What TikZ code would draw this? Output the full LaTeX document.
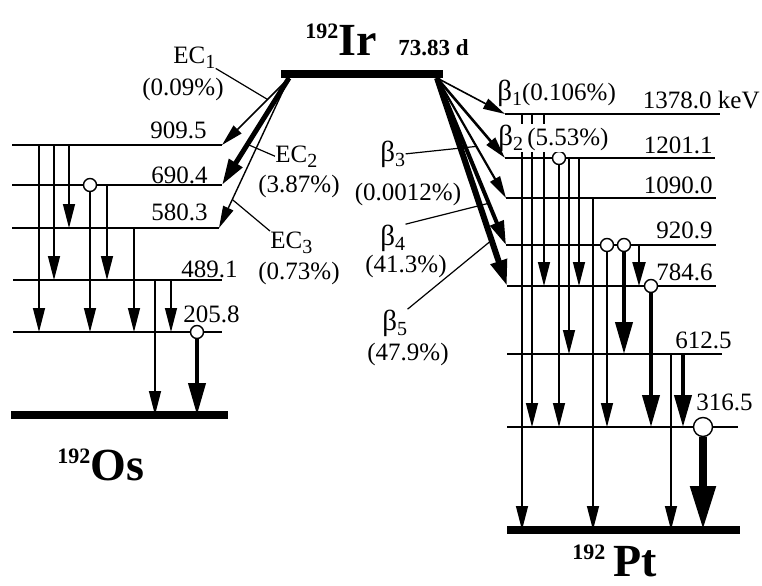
\documentclass[tikz,border=0pt]{standalone}
\usepackage{fontspec}
\setmainfont{Liberation Serif}
\usetikzlibrary{arrows.meta,calc}
\newcommand{\lowix}[1]{\raisebox{-2.5pt}{\fontsize{10}{10}\selectfont #1}}
\newcommand{\bsym}[1]{{\fontsize{14.5}{15}\selectfont β}\lowix{#1}}
\newcommand{\isot}[2]{{\bfseries\raisebox{8.3pt}{\fontsize{11}{11}\selectfont #1}\fontsize{23}{25}\selectfont #2}}

\begin{document}
\begin{tikzpicture}[x=0.5pt, y=-0.5pt,
  font=\fontsize{12.5}{14}\selectfont,
  lvl/.style={line width=0.8pt},
  gnd/.style={line width=4pt},
  val/.style={anchor=base east, inner sep=0pt},
  txt/.style={anchor=base west, inner sep=0pt},
  pct/.style={anchor=base, inner sep=0pt},
  gam/.style={line width=0.7pt, -{Triangle[length=12pt,width=6pt]}},
  gamm/.style={line width=1.1pt, -{Triangle[length=12pt,width=6.5pt]}},
  gamt/.style={line width=2pt, -{Triangle[length=16pt,width=8.5pt]}},
  gamtt/.style={line width=4pt, -{Triangle[length=22pt,width=12pt]}},
  dec/.style={-{Triangle[length=11pt,width=5.5pt]}},
  lead/.style={line width=0.6pt},
  dot/.style={circle, draw, fill=white, line width=0.7pt, inner sep=0pt, minimum size=6.5pt}]
\useasboundingbox (0,0) rectangle (762,585);
% parent 192Ir
\draw[gnd] (281,74) coordinate (ir-l) -- (443,74) coordinate (ir-r);
\coordinate (ecS) at (289,78);
\coordinate (btS) at (437,78);
\node[txt] (ir) at (305,55) {\isot{192}{Ir}};
\node[txt, font=\bfseries\fontsize{11.5}{12}\selectfont] (thalf) at (398,55) {73.83 d};
% 192Os levels
\foreach \n/\y/\xa/\xb in {os909/145/12/222, os690/185/12/222, os580/228/12/219, os489/280/13/222, os205/332/13/222}
  \draw[lvl] (\xa,\y) coordinate (\n-l) -- (\xb,\y) coordinate (\n-r);
\draw[gnd] (11,415) coordinate (os0-l) -- (228,415) coordinate (os0-r);
\foreach \n/\t/\x/\y in {os909/909.5/207/138, os690/690.4/208/183, os580/580.3/208/220, os489/489.1/238/277, os205/205.8/240/322}
  \node[val] (\n-t) at (\x,\y) {\t};
\node[txt] (os) at (57,480) {\isot{192}{Os}};
% 192Os gammas
\foreach \x/\a/\b in {39/os909/os205, 54/os909/os489, 69/os909/os580, 107/os690/os489, 134/os580/os205, 155/os489/os0, 171/os489/os205}
  \draw[gam] (\x,0 |- \a-l) -- (\x,0 |- \b-l);
\node[dot] (c690) at (90,0 |- os690-l) {};
\node[dot] (c205) at (197,0 |- os205-l) {};
\draw[gam] (c690) -- (c690 |- os205-l);
\draw[gamt] (c205) -- (c205 |- os0-l);
% electron capture
\draw[dec, line width=0.8pt] (ecS) -- (os909-r);
\draw[dec, line width=2.5pt, -{Triangle[length=13pt,width=7.5pt]}] (ecS) -- (os690-r);
\draw[dec, line width=0.7pt] (ecS) -- (os580-r);
\node[txt] (ec1) at (173,63) {EC\lowix{1}};
\node[pct] (ec1p) at (183,95) {(0.09\%)};
\node[txt] (ec2) at (275,162) {EC\lowix{2}};
\node[pct] (ec2p) at (299,192) {(3.87\%)};
\node[txt] (ec3) at (270,248) {EC\lowix{3}};
\node[pct] (ec3p) at (299,279) {(0.73\%)};
\draw[lead] (ec1.south east) -- ($(ecS)!0.32!(os909-r)$);
\draw[lead] (ec2.west) -- ($(ecS)!0.62!(os690-r)$);
\draw[lead] (ec3.north west) -- ($(ecS)!0.81!(os580-r)$);
% 192Pt levels
\foreach \n/\y/\xa/\xb in {pt1378/114/505/720, pt1201/158/505/715, pt1090/198/506/716, pt920/245/506/716, pt784/286/507/716, pt612/354/507/722, pt316/427/507/738}
  \draw[lvl] (\xa,\y) coordinate (\n-l) -- (\xb,\y) coordinate (\n-r);
\draw[gnd] (507,530) coordinate (pt0-l) -- (740,530) coordinate (pt0-r);
\foreach \n/\t/\x/\y in {pt1378/1378.0 keV/760/108, pt1201/1201.1/713/153, pt1090/1090.0/713/193, pt920/920.9/713/238, pt784/784.6/713/280, pt612/612.5/732/348, pt316/316.5/753/410}
  \node[val] (\n-t) at (\x,\y) {\t};
\node[txt] (pt) at (572,576) {\isot{192}{\,Pt}};
% 192Pt gammas
\foreach \x/\a/\b in {522/pt1378/pt0, 532/pt1378/pt316, 544/pt1378/pt784, 569/pt1201/pt612, 579/pt1201/pt784, 593/pt1090/pt0, 671/pt612/pt0}
  \draw[gam] (\x,0 |- \a-l) -- (\x,0 |- \b-l);
\draw[gamm] (639,0 |- pt920-l) -- (639,0 |- pt784-l);
\draw[gamt] (683,0 |- pt612-l) -- (683,0 |- pt316-l);
\node[dot] (c1201) at (559,0 |- pt1201-l) {};
\node[dot] (c920a) at (607,0 |- pt920-l) {};
\node[dot] (c920b) at (624,0 |- pt920-l) {};
\node[dot] (c784) at (651,0 |- pt784-l) {};
\node[dot, minimum size=9.5pt] (c316) at (703,0 |- pt316-l) {};
\draw[gam] (c1201) -- (c1201 |- pt316-l);
\draw[gam] (c920a) -- (c920a |- pt316-l);
\draw[gamt] (c920b) -- (c920b |- pt612-l);
\draw[gamt] (c784) -- (c784 |- pt316-l);
\draw[gamtt] (c316) -- (c316 |- pt0-l);
% beta decay
\node[txt, inner sep=0.5pt, fill=white] (b2) at (497,145) {\bsym{2}\,(5.53\%)};
\draw[dec, line width=0.8pt] (btS) -- (pt1378-l);
\draw[dec, line width=1.3pt] (btS) -- (pt1201-l);
\draw[dec, line width=1.1pt] (btS) -- (pt1090-l);
\draw[dec, line width=2pt, -{Triangle[length=12pt,width=7pt]}] (btS) -- (pt920-l);
\draw[dec, line width=3pt, -{Triangle[length=13pt,width=8pt]}] (btS) -- (pt784-l);
\node[txt] (b1) at (497,100) {\bsym{1}(0.106\%)};
\node[txt] (b3) at (380,161) {\bsym{3}};
\node[pct] (b3p) at (408,200) {(0.0012\%)};
\node[txt] (b4) at (380,245) {\bsym{4}};
\node[pct] (b4p) at (406,272) {(41.3\%)};
\node[txt] (b5) at (382,330) {\bsym{5}};
\node[pct] (b5p) at (408,360) {(47.9\%)};
\draw[lead] (b3.east) -- ($(btS)!0.57!(pt1090-l)$);
\draw[lead] (b4.north east) -- ($(btS)!0.75!(pt920-l)$);
\draw[lead] (b5.north east) -- ($(btS)!0.78!(pt784-l)$);
\end{tikzpicture}
\end{document}
